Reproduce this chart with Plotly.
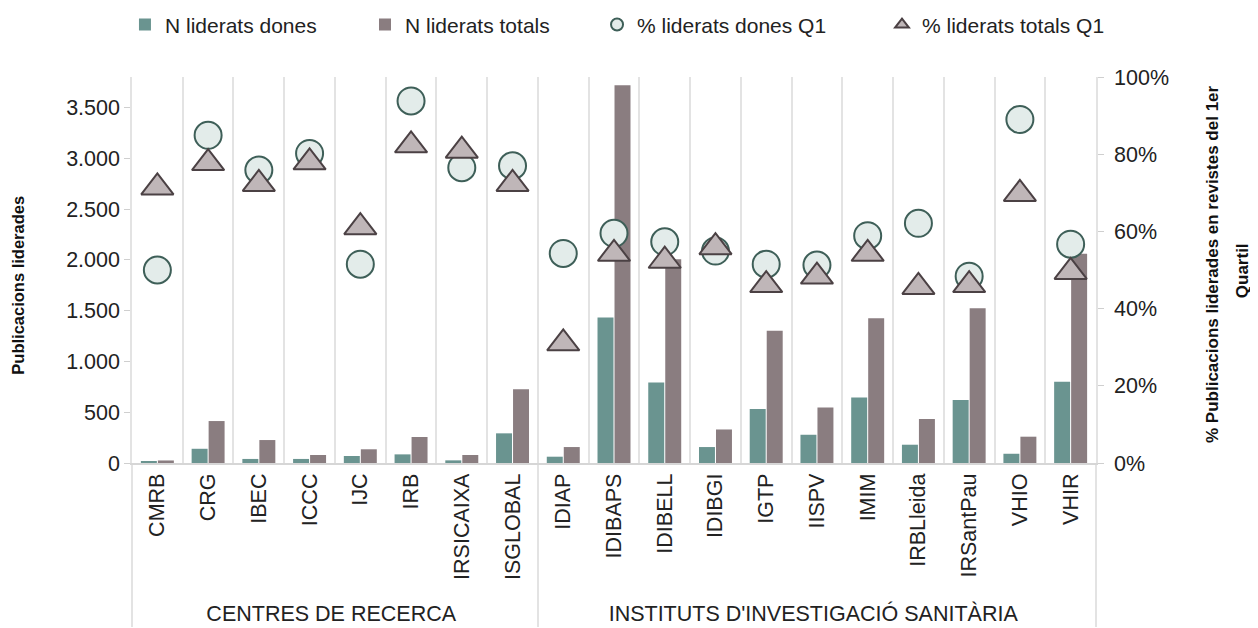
import plotly.graph_objects as go

# ---------------- data ----------------
cats_centres = ["CMRB", "CRG", "IBEC", "ICCC", "IJC", "IRB", "IRSICAIXA", "ISGLOBAL"]
cats_instituts = ["IDIAP", "IDIBAPS", "IDIBELL", "IDIBGI", "IGTP", "IISPV", "IMIM",
                  "IRBLleida", "IRSantPau", "VHIO", "VHIR"]
group_centres = "CENTRES DE RECERCA"
group_instituts = "INSTITUTS D'INVESTIGACIÓ SANITÀRIA"

n_liderats_dones = [10, 140, 40, 40, 69, 85, 26, 292,
                    62, 1432, 793, 157, 531, 278, 645, 180, 619, 91, 799]
n_liderats_totals = [25, 413, 226, 79, 135, 256, 79, 725,
                     157, 3720, 2006, 330, 1301, 547, 1426, 433, 1524, 259, 2061]
pct_dones_q1 = [50.0, 84.9, 75.9, 80.2, 51.5, 93.8, 76.5, 77.0,
                54.3, 59.5, 57.3, 54.9, 51.5, 51.3, 58.9, 62.1, 48.4, 89.0, 56.7]
pct_totals_q1 = [71.4, 77.7, 72.3, 77.9, 61.1, 82.3, 80.9, 72.3,
                 31.0, 54.2, 52.4, 55.9, 46.1, 48.3, 54.2, 45.6, 46.1, 69.7, 49.5]

left_ticks = [0, 500, 1000, 1500, 2000, 2500, 3000, 3500]

# ---------------- figure ----------------
cats = cats_centres + cats_instituts
groups = [group_centres] * len(cats_centres) + [group_instituts] * len(cats_instituts)
x = [groups, cats]

TEAL = "#6a9490"
MAUVE = "#8a7d80"

fig = go.Figure()
fig.add_bar(x=x, y=n_liderats_dones, name="N liderats dones",
            marker=dict(color=TEAL, line=dict(width=0)), legend="legend")
fig.add_bar(x=x, y=n_liderats_totals, name="N liderats totals",
            marker=dict(color=MAUVE, line=dict(width=0)), legend="legend2")
fig.add_scatter(x=x, y=[p / 100 for p in pct_dones_q1], yaxis="y2", mode="markers",
                name="% liderats dones Q1", legend="legend3",
                marker=dict(symbol="circle", size=27, color="#e3ecea",
                            line=dict(color="#3e5f58", width=2)))
fig.add_scatter(x=x, y=[p / 100 for p in pct_totals_q1], yaxis="y2", mode="markers",
                name="% liderats totals Q1", legend="legend4",
                marker=dict(symbol="triangle-up", size=28, color="#bfb6b8",
                            line=dict(color="#4b4144", width=2)))

GRID = "#e3e3e3"
leg_common = dict(orientation="h", yanchor="middle", y=1.135, xanchor="left",
                  font=dict(size=21, color="#222"), bgcolor="rgba(0,0,0,0)",
                  itemsizing="constant")
TITLE_FONT_L = dict(family="Liberation Sans, Arial, sans-serif", size=16.5, color="#111")
TITLE_FONT_R = dict(family="Liberation Sans, Arial, sans-serif", size=17, color="#111")

# The page body has an 8px margin, so the figure is drawn 8px smaller and the
# left/top margins are reduced by 8px to keep the plot area where the reference has it.
fig.update_layout(
    width=1250, height=620,
    margin=dict(l=124, r=162, t=69, b=165, autoexpand=False),
    showlegend=True,
    barmode="group", bargap=0.33, bargroupgap=0.06,
    separators=",.",
    font=dict(family="Liberation Sans, Arial, sans-serif", size=21.5, color="#222"),
    plot_bgcolor="white", paper_bgcolor="white",
    xaxis=dict(type="multicategory", range=[-0.5, 18.5], tickson="boundaries",
               showgrid=True, gridcolor=GRID, gridwidth=1.5, showline=True,
               linecolor="#d6d6d6", linewidth=2, tickangle=-90, showdividers=True,
               dividercolor=GRID, dividerwidth=1.5, ticks="", automargin=False),
    yaxis=dict(range=[0, 3800], tickvals=left_ticks, tickformat=",d",
               showgrid=False, zeroline=False, showline=True, linecolor=GRID,
               linewidth=1.5, ticks="outside", ticklen=6, tickcolor="#cfcfcf",
               automargin=False),
    yaxis2=dict(overlaying="y", side="right", range=[0, 1], tickformat=".0%",
                dtick=0.2, showgrid=False, zeroline=False, showline=True,
                linecolor=GRID, linewidth=1.5, ticks="outside", ticklen=6,
                tickcolor="#cfcfcf", automargin=False, ticklabelstandoff=6),
    legend=dict(x=-0.0073, **leg_common),
    legend2=dict(x=0.2417, **leg_common),
    legend3=dict(x=0.4824, **leg_common),
    legend4=dict(x=0.778, **leg_common),
    annotations=[
        dict(text="<b>Publicacions liderades</b>", textangle=-90, xref="paper", yref="paper",
             x=-0.118, y=0.46, xanchor="center", yanchor="middle", showarrow=False,
             font=TITLE_FONT_L),
        dict(text="<b>% Publicacions liderades en revistes del 1er</b>",
             textangle=-90, xref="paper", yref="paper", x=1.1203, y=0.5155,
             xanchor="center", yanchor="middle", showarrow=False, font=TITLE_FONT_R),
        dict(text="<b>Quartil</b>",
             textangle=-90, xref="paper", yref="paper", x=1.1515, y=0.497,
             xanchor="center", yanchor="middle", showarrow=False, font=TITLE_FONT_R),
    ],
)

fig.write_html("out.html")
